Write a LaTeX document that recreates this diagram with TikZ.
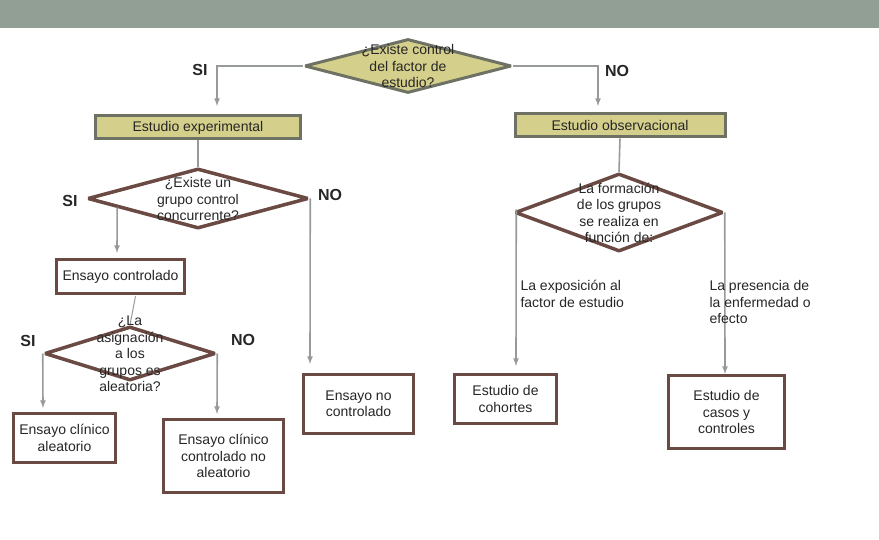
\documentclass[tikz,border=0pt]{standalone}
\usepackage{fontspec}
\setmainfont{Liberation Sans}
\usetikzlibrary{shapes.geometric,calc}
\definecolor{bannergray}{HTML}{929F94}
\definecolor{khaki}{HTML}{D5CF8C}
\definecolor{olivegray}{HTML}{6E7264}
\definecolor{brownline}{HTML}{6B4A44}
\definecolor{conngray}{HTML}{969B99}
\newcommand{\txt}{\fontsize{14}{16.5}\selectfont}

\begin{document}
\begin{tikzpicture}[x=1pt,y=-1pt,
   conn/.style={draw=conngray,line width=1.6pt,-latex},
   kbox/.style={rectangle,draw=olivegray,fill=khaki,line width=3pt,inner sep=0pt},
   bbox/.style={rectangle,draw=brownline,fill=white,line width=3.5pt,inner sep=0pt,
      align=center,font=\txt,text=black!85},
   kdiam/.style={diamond,draw=olivegray,fill=khaki,line width=3pt,inner sep=0pt,line join=bevel},
   bdiam/.style={diamond,draw=brownline,fill=white,line width=3.5pt,inner sep=0pt,line join=bevel},
   qtext/.style={align=center,font=\txt,text=black!85},
   yesno/.style={font=\fontsize{16}{18}\selectfont\bfseries,text=black!85}]
   \useasboundingbox (0,0) rectangle (879,540);
   \fill[bannergray] (0,0) rectangle (879,28);
   % primera pregunta
   \node[kdiam,minimum width=207,minimum height=54] (q1) at (408,66) {};
   \node[qtext] (t1) at (408,66) {¿Existe control\\del factor de\\estudio?};
   \node[kbox,minimum width=205,minimum height=23] (exp) at (198,127.5) {};
   \node[qtext] at (exp) {Estudio experimental};
   \node[kbox,minimum width=210,minimum height=23] (obs) at (620,125.5) {};
   \node[qtext] at (obs) {Estudio observacional};
   \coordinate (e1) at (217,106);
   \coordinate (e2) at (598,106);
   \draw[conn] (q1.west) -| (e1);
   \draw[conn] (q1.east) -| (e2);
   \node[yesno] (si1) at (200,70) {SI};
   \node[yesno] (no1) at (617,71) {NO};
   % rama experimental
   \node[bdiam,minimum width=221,minimum height=60] (q2) at (198,198.5) {};
   \node[qtext] (t2) at (198,199) {¿Existe un\\grupo control\\concurrente?};
   \draw[draw=conngray,line width=1.6pt] (exp.south) -- (q2.north);
   \node[yesno] (si2) at (70,201) {SI};
   \node[yesno] (no2) at (330,195) {NO};
   \coordinate (s2) at ($(q2.west)!0.28!(q2.south)$);
   \coordinate (e3) at (117,253);
   \coordinate (e4) at (310,364);
   \draw[conn] (s2) -- (e3);
   \draw[conn] (q2.east) -- (e4);
   \node[bbox,minimum width=128,minimum height=34] (ctrl) at (120.5,276.5) {Ensayo controlado};
   \node[bdiam,minimum width=171,minimum height=54] (q3) at (130,353.5) {};
   \draw[draw=conngray,line width=1pt] ($(ctrl.south)+(15,1)$) -- (q3.north);
   \node[qtext] (t3) at (130,354) {¿La\\asignación\\a los\\grupos es\\aleatoria?};
   \node[yesno] (si3) at (28,341) {SI};
   \node[yesno] (no3) at (243,340) {NO};
   \coordinate (e5) at (43,408);
   \coordinate (e6) at (217,414);
   \draw[conn] (q3.west) -- (e5);
   \draw[conn] (q3.east) -- (e6);
   \node[bbox,minimum width=102,minimum height=49] (eca) at (64.5,438) {Ensayo clínico\\aleatorio};
   \node[bbox,minimum width=120,minimum height=73] (ecna) at (223.5,456) {Ensayo clínico\\controlado no\\aleatorio};
   \node[bbox,minimum width=110,minimum height=59] (enc) at (358.5,404) {Ensayo no\\controlado};
   % rama observacional
   \node[bdiam,minimum width=208,minimum height=78] (q4) at (619,212.5) {};
   \node[qtext] (t4) at (619,213) {La formación\\de los grupos\\se realiza en\\función de:};
   \draw[draw=conngray,line width=1.6pt] (obs.south) -- (q4.north);
   \coordinate (s7) at ($(q4.west)+(3,-3)$);
   \coordinate (e7) at (516,366);
   \coordinate (e8) at (725,374);
   \draw[conn] (s7) -- (e7);
   \draw[conn] (q4.east) -- (e8);
   \node[qtext,align=left,anchor=north west] (l7) at (517,277) {La exposición al\\factor de estudio};
   \node[qtext,align=left,anchor=north west] (l8) at (706,277) {La presencia de\\la enfermedad o\\efecto};
   \node[bbox,minimum width=102,minimum height=49] (coh) at (505.5,399) {Estudio de\\cohortes};
   \node[bbox,minimum width=116,minimum height=73] (cyc) at (726.5,412) {Estudio de\\casos y\\controles};
\end{tikzpicture}
\end{document}
